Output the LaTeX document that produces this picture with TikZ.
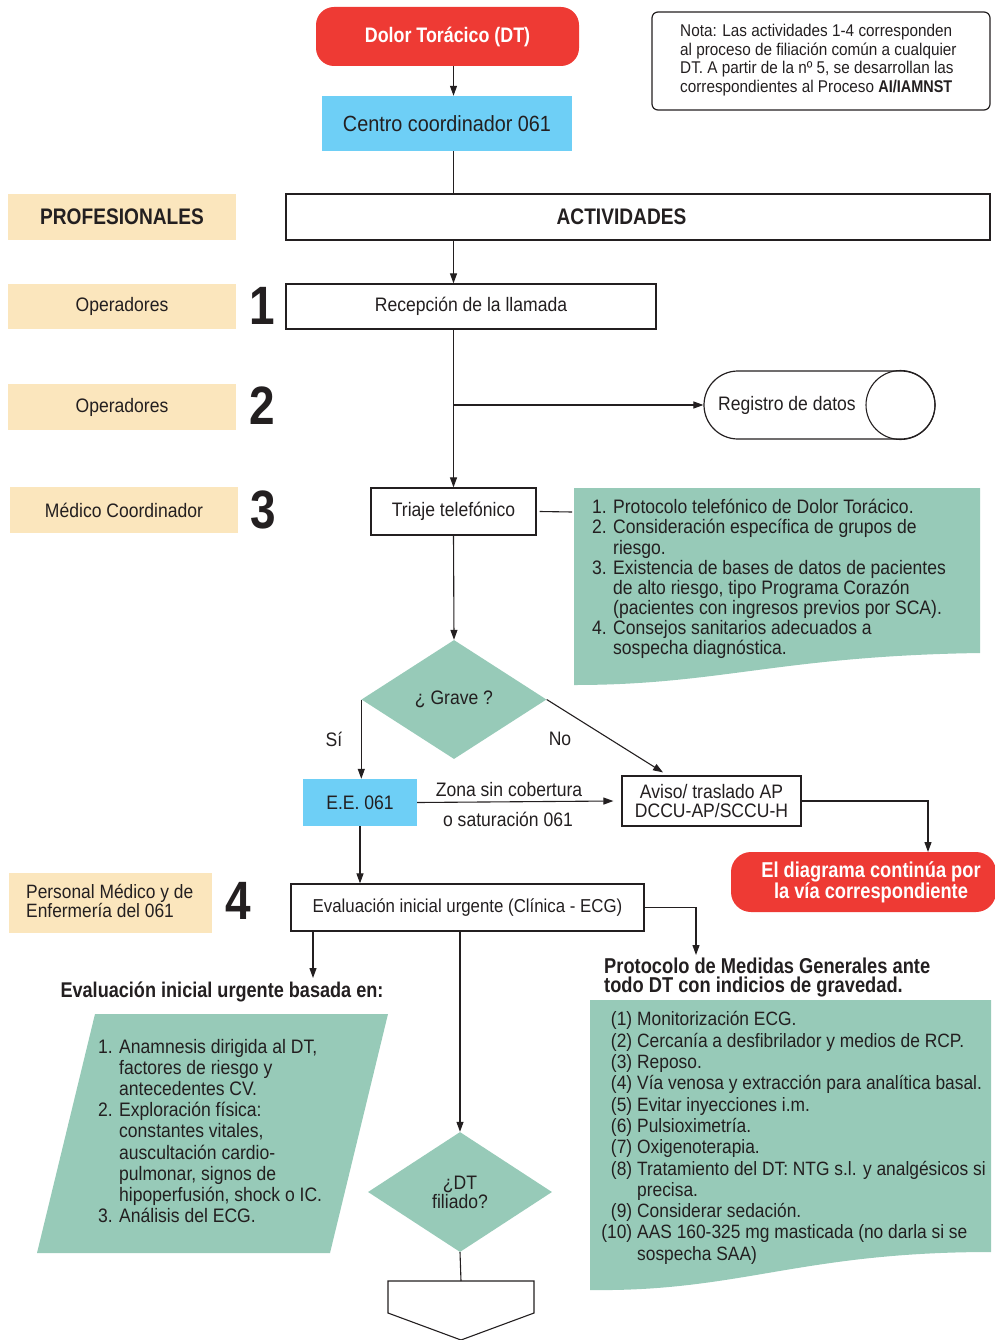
\documentclass[tikz,border=0pt]{standalone}
\usepackage{fontspec}
\setmainfont{Liberation Sans}[FakeStretch=0.9]
\newfontfamily\bfc{Liberation Sans}[FakeStretch=0.85]
\usetikzlibrary{arrows.meta,shapes.geometric}
\definecolor{redc}{HTML}{EE3A34}
\definecolor{bluec}{HTML}{6ECFF6}
\definecolor{beige}{HTML}{FBE6BD}
\definecolor{greenc}{HTML}{97CAB8}
\definecolor{txt}{HTML}{231F20}
\newcommand\fsz[2]{\fontsize{#1}{#2}\selectfont}
\begin{document}
\begin{tikzpicture}[x=1pt,y=-1pt,
  every node/.style={text=txt, inner sep=0pt, font=\fsz{19.5}{20}},
  box/.style={draw=txt, line width=1.2pt, fill=white},
  prof/.style={fill=beige, minimum width=228pt, minimum height=46pt},
  num/.style={font=\bfc\bfseries\fsz{54}{54}},
  bt/.style={font=\bfc\bfseries\fsz{22.5}{22.5}},
  arr/.style={-{Triangle[length=10pt,width=7pt]}, line width=1.1pt, draw=txt},
  ln/.style={line width=1.1pt, draw=txt}]
\useasboundingbox (0,0) rectangle (994,1340);

% top
\node[fill=redc, rounded corners=18pt, minimum width=263pt, minimum height=59pt, text=white, font=\bfc\bfseries\fsz{21}{21}] (dt) at (447.5,36.5) {Dolor Torácico (DT)};
\node[fill=bluec, minimum width=250pt, minimum height=55pt, font=\fsz{22}{22}] (cc) at (447,123.5) {Centro coordinador 061};
\node[draw=txt, line width=1.2pt, rounded corners=6pt, minimum width=338pt, minimum height=98pt] (nota) at (821,61) {};
\node[anchor=west, align=left, font=\fsz{17}{18.7}] (notatxt) at (680,60) {Nota: Las actividades 1-4 corresponden\\al proceso de filiación común a cualquier\\DT. A partir de la nº 5, se desarrollan las\\correspondientes al Proceso {\bfc\bfseries AI/IAMNST}};

% header row
\node[prof, bt] (prof) at (122,217) {PROFESIONALES};
\node[box, minimum width=704pt, minimum height=46pt] (act) at (638,217) {};
\node[bt] (actlbl) at (621.5,217) {ACTIVIDADES};

% row 1
\node[prof, minimum height=45pt] (op1) at (122,306.5) {Operadores};
\node[num] (n1) at (262,306) {1};
\node[box, minimum width=370pt, minimum height=45pt] (rec) at (471,306.5) {Recepción de la llamada};

% row 2
\node[prof] (op2) at (122,407) {Operadores};
\node[num] (n2) at (262,406) {2};
\node[draw=txt, line width=1.2pt, rounded corners=34pt, minimum width=231pt, minimum height=68pt] (reg) at (819.5,405) {};
\draw[ln] (900.5,405) circle (34.5pt);
\node (reglbl) at (787,405) {Registro de datos};

% row 3
\node[prof] (med) at (124,510) {Médico Coordinador};
\node[num] (n3) at (263,510) {3};
\node[box, minimum width=165pt, minimum height=47pt] (tri) at (453.5,511.5) {Triaje telefónico};

\fill[greenc] (574,488) -- (980,488) -- (980,653) .. controls (780,656) and (720,685) .. (574,685) -- cycle;
\coordinate (d1) at (572,512);
\node[anchor=west, align=left, font=\fsz{19.5}{20.1}] (doc1) at (592,579) {\makebox[21pt][l]{1.}Protocolo telefónico de Dolor Torácico.\\
\makebox[21pt][l]{2.}Consideración específica de grupos de\\
\hspace*{21pt}riesgo.\\
\makebox[21pt][l]{3.}Existencia de bases de datos de pacientes\\
\hspace*{21pt}de alto riesgo, tipo Programa Corazón\\
\hspace*{21pt}(pacientes con ingresos previos por SCA).\\
\makebox[21pt][l]{4.}Consejos sanitarios adecuados a\\
\hspace*{21pt}sospecha diagnóstica.};

% decision grave
\node[diamond, fill=greenc, minimum width=185pt, minimum height=119pt] (gra) at (454,699.5) {¿ Grave ?};
\node (si) at (334,739) {Sí};
\node (no) at (560,739) {No};

\node[fill=bluec, minimum width=114pt, minimum height=47pt] (ee) at (360,802.5) {E.E. 061};
\node[box, minimum width=179pt, minimum height=50pt, align=center, font=\fsz{19.5}{19}] (aviso) at (711.5,801) {Aviso/ traslado AP\\DCCU-AP/SCCU-H};
\node (zona) at (509,790) {Zona sin cobertura};
\node (osat) at (508,819) {o saturación 061};

\node[fill=redc, rounded corners=20pt, minimum width=265pt, minimum height=60pt] (red2) at (863.5,882) {};
\node[align=center, text=white, font=\bfc\bfseries\fsz{21.5}{19}] (red2t) at (871,882.5) {El diagrama continúa por\\la vía correspondiente};
\coordinate (rc) at (928,852);

% row 4
\node[fill=beige, minimum width=203pt, minimum height=60pt] (per4) at (110.5,903) {};
\node[anchor=west, align=left, font=\fsz{19.3}{19}] (per4t) at (26,901) {Personal Médico y de\\Enfermería del 061};
\node[num] (n4) at (238,901) {4};
\node[box, minimum width=353pt, minimum height=47pt, font=\fsz{18.7}{18.7}] (eva) at (467.5,907.5) {Evaluación inicial urgente (Clínica - ECG)};

\node[font=\bfc\bfseries\fsz{21.3}{21.3}] (basada) at (222,992) {Evaluación inicial urgente basada en:};
\coordinate (bt) at (313,978);
\fill[greenc] (95,1014) -- (388,1014) -- (330,1253) -- (37,1253) -- cycle;
\node[anchor=west, align=left, font=\fsz{19.5}{21.2}] (para) at (98,1131) {\makebox[21pt][l]{1.}Anamnesis dirigida al DT,\\
\hspace*{21pt}factores de riesgo y\\
\hspace*{21pt}antecedentes CV.\\
\makebox[21pt][l]{2.}Exploración física:\\
\hspace*{21pt}constantes vitales,\\
\hspace*{21pt}auscultación cardio-\\
\hspace*{21pt}pulmonar, signos de\\
\hspace*{21pt}hipoperfusión, shock o IC.\\
\makebox[21pt][l]{3.}Análisis del ECG.};

\node[diamond, fill=greenc, minimum width=184pt, minimum height=120pt, align=center, font=\fsz{19.5}{19}] (dtf) at (460,1192) {¿DT\\filiado?};
\draw[ln, fill=white] (388,1281) -- (534,1281) -- (534,1313) -- (461,1340) -- (388,1313) -- cycle;
\coordinate (offtop) at (461,1281);

\node[anchor=west, align=left, font=\bfc\bfseries\fsz{21.5}{19}] (proto) at (604,977) {Protocolo de Medidas Generales ante\\todo DT con indicios de gravedad.};
\coordinate (pm) at (696,955);
\fill[greenc] (590,1000) -- (991,1000) -- (991,1252) .. controls (800,1252) and (740,1292) .. (590,1290) -- cycle;
\node[anchor=west, align=left, font=\fsz{19.3}{21.3}] (doc2) at (601,1138) {\makebox[31pt][r]{(1)}\hspace{5pt}Monitorización ECG.\\
\makebox[31pt][r]{(2)}\hspace{5pt}Cercanía a desfibrilador y medios de RCP.\\
\makebox[31pt][r]{(3)}\hspace{5pt}Reposo.\\
\makebox[31pt][r]{(4)}\hspace{5pt}Vía venosa y extracción para analítica basal.\\
\makebox[31pt][r]{(5)}\hspace{5pt}Evitar inyecciones i.m.\\
\makebox[31pt][r]{(6)}\hspace{5pt}Pulsioximetría.\\
\makebox[31pt][r]{(7)}\hspace{5pt}Oxigenoterapia.\\
\makebox[31pt][r]{(8)}\hspace{5pt}Tratamiento del DT: NTG s.l. y analgésicos si\\
\hspace*{36pt}precisa.\\
\makebox[31pt][r]{(9)}\hspace{5pt}Considerar sedación.\\
\makebox[31pt][r]{(10)}\hspace{5pt}AAS 160-325 mg masticada (no darla si se\\
\hspace*{36pt}sospecha SAA)};

% connectors
\coordinate (br) at (tri |- reg.west);
\draw[arr] (dt.south -| tri) -- (cc.north -| tri);
\draw[ln] (cc.south -| tri) -- (act.north -| tri);
\draw[arr] (act.south -| tri) -- (rec.north -| tri);
\draw[arr] (rec.south -| tri) -- (tri.north);
\draw[arr] (br) -- (reg.west);
\draw[ln] ([xshift=3pt]tri.east) -- (d1);
\draw[arr] (tri.south) -- (gra.north);
\draw[arr] (gra.west) -- (gra.west |- ee.north);
\draw[arr] (gra.east) -- ([xshift=-48.5pt,yshift=3pt]aviso.north);
\draw[arr] (ee.east) -- ([xshift=-8pt]aviso.west);
\draw[arr] (aviso.east) -| (rc);
\draw[arr] (ee.south) -- (ee.south |- eva.north);
\draw[arr] (eva.east) -| (pm);
\draw[arr] (bt |- eva.south) -- (bt);
\draw[arr] (dtf.north |- eva.south) -- (dtf.north);
\draw[ln] (dtf.south) -- (offtop);
\end{tikzpicture}
\end{document}
